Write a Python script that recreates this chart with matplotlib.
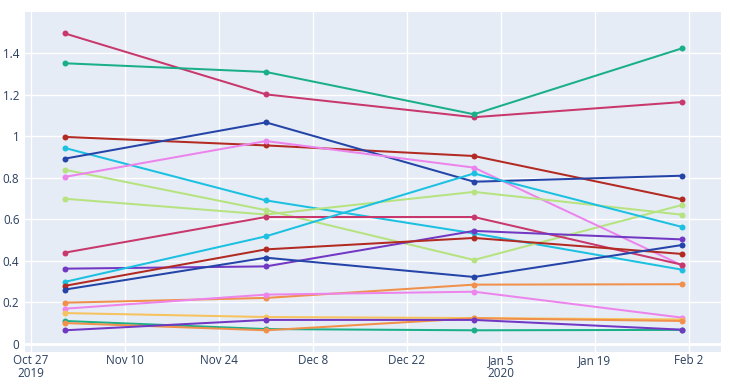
import datetime as dt
import matplotlib
matplotlib.use("Agg")
import matplotlib.pyplot as plt
import matplotlib.dates as mdates

# monthly observations
dates = [dt.date(2019, 11, 1), dt.date(2019, 12, 1), dt.date(2020, 1, 1), dt.date(2020, 2, 1)]

crimson_a = [1.497, 1.203, 1.093, 1.166]
teal_a = [1.353, 1.311, 1.107, 1.425]
darkred_a = [0.998, 0.957, 0.906, 0.697]
cyan_a = [0.945, 0.692, 0.533, 0.358]
blue_a = [0.893, 1.068, 0.782, 0.811]
lgreen_a = [0.840, 0.645, 0.405, 0.670]
pink_a = [0.805, 0.978, 0.850, 0.379]
lgreen_b = [0.700, 0.624, 0.733, 0.623]
crimson_b = [0.440, 0.612, 0.612, 0.382]
purple_a = [0.363, 0.374, 0.545, 0.504]
cyan_b = [0.299, 0.519, 0.822, 0.564]
darkred_b = [0.280, 0.456, 0.511, 0.434]
blue_b = [0.262, 0.416, 0.323, 0.477]
orange_a = [0.199, 0.222, 0.286, 0.288]
pink_b = [0.170, 0.238, 0.252, 0.127]
yellow_a = [0.149, 0.130, 0.125, 0.118]
teal_b = [0.111, 0.072, 0.066, 0.068]
orange_b = [0.101, 0.066, 0.124, 0.111]
purple_b = [0.066, 0.116, 0.116, 0.069]

series = [
    (crimson_a, "#c8386c"), (teal_a, "#1aaf88"), (darkred_a, "#b22a22"),
    (cyan_a, "#1cc0e0"), (blue_a, "#2544a8"), (lgreen_a, "#b6e380"),
    (pink_a, "#ec84ec"), (lgreen_b, "#b6e380"), (crimson_b, "#c8386c"),
    (purple_a, "#7238c4"), (cyan_b, "#1cc0e0"), (darkred_b, "#b22a22"),
    (blue_b, "#2544a8"), (orange_a, "#f0904a"), (pink_b, "#ec84ec"),
    (yellow_a, "#f6c35e"), (teal_b, "#1aaf88"), (orange_b, "#f0904a"),
    (purple_b, "#7238c4"),
]

fig = plt.figure(figsize=(7.3, 3.84), dpi=100)
ax = fig.add_axes([25 / 730, 1 - 352 / 384, 696 / 730, 340 / 384])
ax.set_facecolor("#e5ecf6")

for vals, col in series:
    ax.plot(dates, vals, color=col, lw=1.45, marker="o", ms=4.3,
            markeredgewidth=0, zorder=3)

x0 = mdates.date2num(dt.date(2019, 10, 27))
ax.set_xlim(x0 - 0.9, x0 + 102.8)
ax.set_ylim(-0.0386, 1.6)

ticks = [dt.date(2019, 10, 27) + dt.timedelta(days=14 * i) for i in range(8)]
labels = []
for t in ticks:
    s = t.strftime("%b ") + str(t.day)
    if t == dt.date(2019, 10, 27) or t == dt.date(2020, 1, 5):
        s += "\n" + str(t.year)
    labels.append(s)
ax.set_xticks(ticks)
ax.set_xticklabels(labels, linespacing=1.0)

yt = [0, 0.2, 0.4, 0.6, 0.8, 1, 1.2, 1.4]
ax.set_yticks(yt)
ax.set_yticklabels(["%g" % v for v in yt])

ax.grid(True, color="white", lw=1, zorder=0)
ax.axhline(0, color="white", lw=2, zorder=1)
for sp in ax.spines.values():
    sp.set_visible(False)
ax.tick_params(length=0, labelsize=8.4, colors="#2a3f5f")
ax.tick_params(axis="x", pad=1.5)
ax.tick_params(axis="y", pad=4)
for lab in ax.get_xticklabels() + ax.get_yticklabels():
    lab.set_family("Open Sans")
ax.set_axisbelow(True)

fig.savefig("out.png", dpi=100, facecolor="white")
